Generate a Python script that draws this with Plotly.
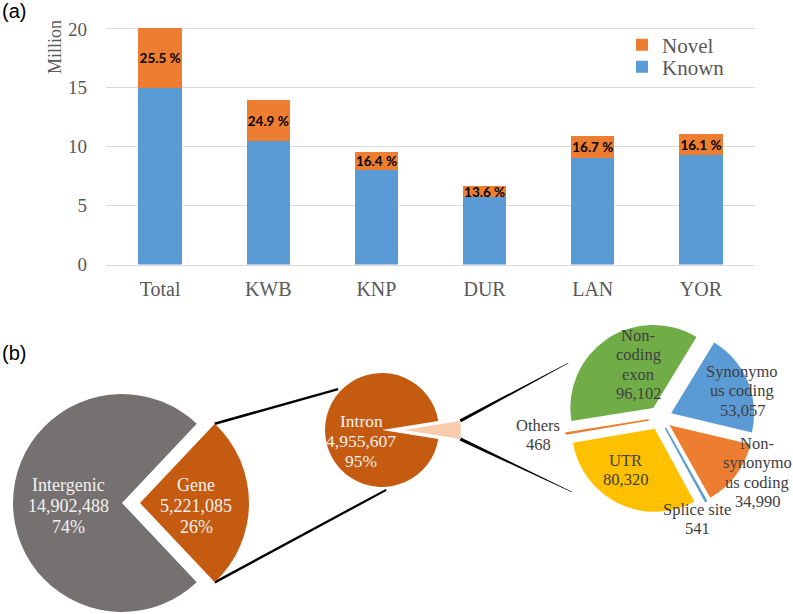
import math
import plotly.graph_objects as go

W, H = 793, 614

# ---------------- data ----------------
categories = ['Total', 'KWB', 'KNP', 'DUR', 'LAN', 'YOR']
known_m = [14.99, 10.48, 8.00, 5.73, 9.05, 9.26]
novel_m = [5.13, 3.48, 1.58, 0.91, 1.82, 1.78]
novel_pct_labels = ['25.5 %', '24.9 %', '16.4 %', '13.6 %', '16.7 %', '16.1 %']
y_tick_vals = [0, 5, 10, 15, 20]

region_labels = ['Gene', 'Intergenic']
region_values = [5221085, 14902488]

gene_labels = ['Intron', 'Exon / others']
gene_values = [4955607, 265478]

detail_labels = ['Non-coding exon', 'Synonymous coding', 'Non-synonymous coding',
                 'Splice site', 'UTR', 'Others']
detail_label_lines = [['Non-', 'coding', 'exon'], ['Synonymo', 'us coding'],
                      ['Non-', 'synonymo', 'us coding'], ['Splice site'], ['UTR'], ['Others']]
detail_values = [96102, 53057, 34990, 541, 80320, 468]

# ---------------- style ----------------
SERIF = 'Liberation Serif, Times New Roman, serif'
SANS = 'Liberation Sans, Arial, sans-serif'
GRAY_TXT = '#595959'
BLUE = '#5B9BD5'
ORANGE = '#ED7D31'
DARK_ORANGE = '#C55A11'
GREY = '#767171'
PEACH = '#F8CBAD'
GREEN = '#70AD47'
YELLOW = '#FFC000'
CLEAR = 'rgba(0,0,0,0)'


def px(x):
    return x / W


def py(y):
    return 1 - y / H


fig = go.Figure()

# ---------------- (a) stacked bars ----------------
fig.add_trace(go.Bar(
    x=categories, y=known_m, name='Known', marker=dict(color=BLUE, line=dict(width=0)),
    xaxis='x', yaxis='y', hoverinfo='x+y', legend='legend2'))
fig.add_trace(go.Bar(
    x=categories, y=novel_m, name='Novel', marker=dict(color=ORANGE, line=dict(width=0)),
    text=novel_pct_labels, textposition='inside', insidetextanchor='middle',
    textangle=0, constraintext='none',
    insidetextfont=dict(family='Lato, Carlito, sans-serif', size=13.5, color='black', weight='bold'),
    xaxis='x', yaxis='y', hoverinfo='x+y', legend='legend'))

# ---------------- (b) pies ----------------
BIG_C = (122, 503)
BIG_R = 109
GENE_SHIFT = 18
INTRON_C = (382, 430)
INTRON_R = 57
INTRON_PULL = 0.386
DETAIL_C = (660, 418)
DETAIL_R = 83
DETAIL_PULL = 0.145

region_total = sum(region_values)
gene_angle = 360.0 * region_values[0] / region_total
gene_rot = 90 - gene_angle / 2


def dom(cx, cy, half):
    return dict(x=[px(cx - half), px(cx + half)], y=[py(cy + half), py(cy - half)])


# Intergenic (gene slot left empty)
fig.add_trace(go.Pie(
    labels=region_labels, values=region_values, sort=False, direction='clockwise',
    rotation=gene_rot, textinfo='none', showlegend=False,
    marker=dict(colors=[CLEAR, GREY], line=dict(width=0)),
    domain=dom(BIG_C[0], BIG_C[1], BIG_R)))
# Gene slice, exploded to the right
fig.add_trace(go.Pie(
    labels=region_labels, values=region_values, sort=False, direction='clockwise',
    rotation=gene_rot, textinfo='none', showlegend=False,
    marker=dict(colors=[DARK_ORANGE, CLEAR], line=dict(width=0)),
    domain=dom(BIG_C[0] + GENE_SHIFT, BIG_C[1], BIG_R)))

gene_total = sum(gene_values)
other_angle = 360.0 * gene_values[1] / gene_total
fig.add_trace(go.Pie(
    labels=gene_labels, values=gene_values, sort=False, direction='clockwise',
    rotation=90 + other_angle / 2, textinfo='none', showlegend=False,
    pull=[0, INTRON_PULL],
    marker=dict(colors=[DARK_ORANGE, PEACH], line=dict(width=0)),
    domain=dom(INTRON_C[0], INTRON_C[1], INTRON_R * (1 + INTRON_PULL))))

detail_colors = [GREEN, BLUE, ORANGE, BLUE, YELLOW, ORANGE]
detail_line_w = [0, 0, 0, 1.6, 0, 1.6]
fig.add_trace(go.Pie(
    labels=detail_labels, values=detail_values, sort=False, direction='clockwise',
    rotation=261, textinfo='none', showlegend=False,
    pull=[DETAIL_PULL] * len(detail_values),
    marker=dict(colors=detail_colors, line=dict(color=detail_colors, width=detail_line_w)),
    domain=dom(DETAIL_C[0], DETAIL_C[1], DETAIL_R * (1 + DETAIL_PULL))))

# ---------------- connector lines ----------------
ha = math.radians(gene_angle / 2)
gx = BIG_C[0] + GENE_SHIFT + BIG_R * math.cos(ha)
g_top = (gx, BIG_C[1] - BIG_R * math.sin(ha))
g_bot = (gx, BIG_C[1] + BIG_R * math.sin(ha))


def on_circle(c, r, deg):
    return (c[0] + r * math.cos(math.radians(deg)), c[1] - r * math.sin(math.radians(deg)))


i_top = on_circle(INTRON_C, INTRON_R + 3, 137)
i_bot = on_circle(INTRON_C, INTRON_R + 3, -86)
pv = (INTRON_C[0] + INTRON_PULL * INTRON_R, INTRON_C[1])
oa = math.radians(other_angle / 2)
p_top = (pv[0] + INTRON_R * math.cos(oa), pv[1] - INTRON_R * math.sin(oa))
p_bot = (pv[0] + INTRON_R * math.cos(oa), pv[1] + INTRON_R * math.sin(oa))
d_top = on_circle(DETAIL_C, 107, 149)
d_bot = on_circle(DETAIL_C, 115, 220)


def tapered(a, b, wa, wb):
    dx, dy = b[0] - a[0], b[1] - a[1]
    L = math.hypot(dx, dy)
    nx, ny = -dy / L, dx / L
    pts = [(a[0] + nx * wa / 2, a[1] + ny * wa / 2), (b[0] + nx * wb / 2, b[1] + ny * wb / 2),
           (b[0] - nx * wb / 2, b[1] - ny * wb / 2), (a[0] - nx * wa / 2, a[1] - ny * wa / 2)]
    path = 'M ' + ' L '.join(f'{px(x):.5f},{py(y):.5f}' for x, y in pts) + ' Z'
    fig.add_shape(type='path', xref='paper', yref='paper', path=path,
                  fillcolor='black', line=dict(width=0), layer='below')


tapered(g_top, i_top, 2.6, 2.2)
tapered(g_bot, i_bot, 2.6, 2.2)
tapered(p_top, d_top, 3.2, 0.6)
tapered(p_bot, d_bot, 3.2, 0.6)


# ---------------- pie labels ----------------
def add_lines(x, y0, lines, size, color, spacing):
    for i, t in enumerate(lines):
        fig.add_annotation(x=px(x), y=py(y0 + i * spacing), xref='paper', yref='paper',
                           text=t, showarrow=False, xanchor='center', yanchor='middle',
                           font=dict(family=SERIF, size=size, color=color))


LIGHT = '#F2F2F2'
region_pct = [round(100 * v / region_total) for v in region_values]
add_lines(68, 485, [region_labels[1], f'{region_values[1]:,}', f'{region_pct[1]}%'], 18, LIGHT, 21)
add_lines(196, 485, [region_labels[0], f'{region_values[0]:,}', f'{region_pct[0]}%'], 18, LIGHT, 21)
gene_pct = round(100 * gene_values[0] / gene_total)
add_lines(361, 421, [gene_labels[0], f'{gene_values[0]:,}', f'{gene_pct}%'], 17.5, LIGHT, 20)

DARK = '#404040'
detail_pos = [(638, 335), (742, 371), (757, 443), (697, 509), (625, 460), (538, 425)]
for (x, y), lines, v in zip(detail_pos, detail_label_lines, detail_values):
    add_lines(x, y, lines + [f'{v:,}'], 16.5, DARK, 19.5)

# panel letters and axis title
fig.add_annotation(x=0, y=py(11), xref='paper', yref='paper', text='(a)', showarrow=False,
                   xanchor='left', yanchor='middle', font=dict(family=SANS, size=20, color='black'))
fig.add_annotation(x=0, y=py(353), xref='paper', yref='paper', text='(b)', showarrow=False,
                   xanchor='left', yanchor='middle', font=dict(family=SANS, size=20, color='black'))
fig.add_annotation(x=px(55), y=py(47), xref='paper', yref='paper', text='Million', showarrow=False,
                   textangle=-90, xanchor='center', yanchor='middle',
                   font=dict(family=SERIF, size=18, color=GRAY_TXT))

leg_common = dict(x=px(622), xanchor='left', yanchor='middle', bgcolor='rgba(0,0,0,0)',
                  font=dict(family=SERIF, size=21, color=GRAY_TXT), itemclick=False,
                  borderwidth=0)

fig.update_layout(
    width=W, height=H, autosize=False,
    margin=dict(l=0, r=0, t=0, b=0, pad=0, autoexpand=False),
    paper_bgcolor='white', plot_bgcolor='white',
    barmode='stack', bargap=0.6,
    xaxis=dict(domain=[px(106), px(755)], anchor='y', showgrid=False, showline=True,
               linecolor='#D9D9D9', linewidth=1, ticks='', ticklabelstandoff=6,
               automargin=False,
               tickfont=dict(family=SERIF, size=20, color=GRAY_TXT)),
    yaxis=dict(domain=[py(264.5), py(26.6)], anchor='x', range=[0, 20.2],
               tickvals=y_tick_vals, showgrid=True, gridcolor='#D9D9D9', gridwidth=1,
               zeroline=False, showline=False, ticks='', ticklabelstandoff=18,
               automargin=False,
               tickfont=dict(family=SERIF, size=19, color=GRAY_TXT)),
    legend=dict(y=py(45), **leg_common),
    legend2=dict(y=py(67), **leg_common),
    showlegend=True,
)

fig.write_html("out.html", config={'displayModeBar': False},
               post_script="document.body.style.margin='0';document.body.style.overflow='hidden';")
